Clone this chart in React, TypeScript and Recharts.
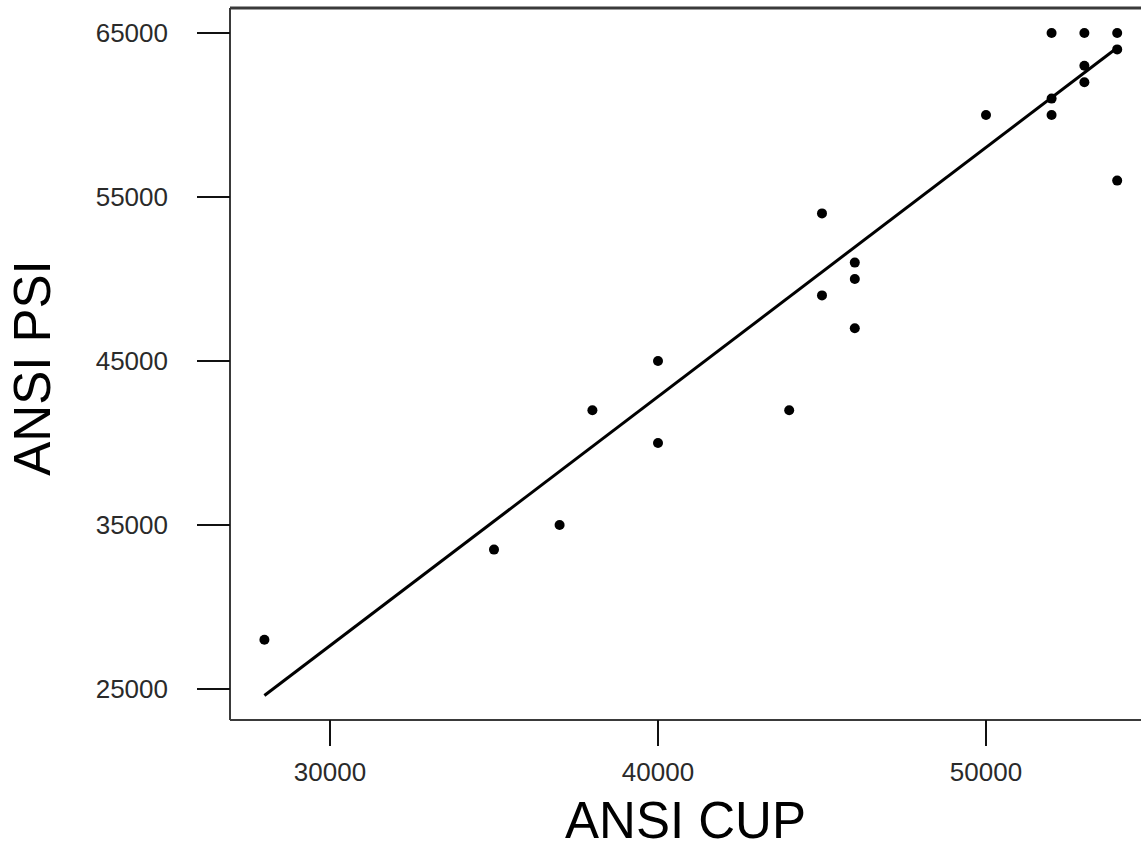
import { Label, ReferenceLine, Scatter, ScatterChart, XAxis, YAxis } from 'recharts';

// ANSI CUP vs ANSI PSI scatter with fitted line.

const cupValues = [
  28000, 35000, 37000, 38000, 40000, 40000, 44000, 45000, 45000, 46000, 46000,
  46000, 50000, 52000, 52000, 52000, 53000, 53000, 53000, 54000, 54000, 54000,
];
const psiValues = [
  28000, 33500, 35000, 42000, 45000, 40000, 42000, 54000, 49000, 51000, 50000,
  47000, 60000, 65000, 61000, 60000, 65000, 63000, 62000, 65000, 64000, 56000,
];
const fitCup = [28000, 54000];
const fitPsi = [24600, 64100];

const xTicks = [30000, 40000, 50000];
const yTicks = [25000, 35000, 45000, 55000, 65000];

const points = cupValues.map((x, i) => ({ x, y: psiValues[i] }));
const fitLine = fitCup.map((x, i) => ({ x, y: fitPsi[i] }));

const X_DOMAIN: [number, number] = [26951, 54726];
const Y_DOMAIN: [number, number] = [23110, 66524];

const FONT = '"Liberation Sans", Arial, sans-serif';
const AXIS_COLOR = '#3a3a3a';
const TICK_TEXT = { fill: '#2a2a2a', fontSize: 26, fontFamily: FONT };

const Dot = (props: any) => <circle cx={props.cx} cy={props.cy} r={5} fill="#000" />;

export default function App() {
  return (
    <div
      style={{
        position: 'absolute',
        left: 0,
        top: 0,
        width: 1141,
        height: 848,
        overflow: 'hidden',
        background: '#fff',
      }}
    >
      <ScatterChart width={1141} height={848} margin={{ top: 8, right: 0, bottom: 0, left: 0 }}>
        <XAxis
          dataKey="x"
          type="number"
          domain={X_DOMAIN}
          allowDataOverflow
          ticks={xTicks}
          tickSize={26}
          tickMargin={17}
          height={128}
          tick={TICK_TEXT}
          tickLine={{ stroke: '#111', strokeWidth: 2 }}
          axisLine={{ stroke: AXIS_COLOR, strokeWidth: 2 }}
        >
          <Label
            content={({ viewBox }: any) => (
              <text
                x={viewBox.x + viewBox.width / 2}
                y={viewBox.y + viewBox.height - 10}
                textAnchor="middle"
                fontSize={51}
                fontFamily={FONT}
                fill="#000"
              >
                ANSI CUP
              </text>
            )}
          />
        </XAxis>
        <YAxis
          dataKey="y"
          type="number"
          domain={Y_DOMAIN}
          allowDataOverflow
          ticks={yTicks}
          width={230}
          tickSize={33}
          tickMargin={29}
          tick={TICK_TEXT}
          tickLine={{ stroke: '#111', strokeWidth: 2 }}
          axisLine={{ stroke: AXIS_COLOR, strokeWidth: 2 }}
        >
          <Label
            content={({ viewBox }: any) => {
              const cx = viewBox.x + 50;
              const cy = 368;
              return (
                <text
                  x={cx}
                  y={cy}
                  transform={`rotate(-90, ${cx}, ${cy})`}
                  textAnchor="middle"
                  fontSize={51}
                  fontFamily={FONT}
                  fill="#000"
                >
                  ANSI PSI
                </text>
              );
            }}
          />
        </YAxis>
        <ReferenceLine y={Y_DOMAIN[1]} stroke={AXIS_COLOR} strokeWidth={3} ifOverflow="visible" />
        <Scatter
          data={fitLine}
          line={{ stroke: '#000', strokeWidth: 3 }}
          shape={() => <g />}
          isAnimationActive={false}
        />
        <Scatter data={points} shape={Dot} isAnimationActive={false} />
      </ScatterChart>
    </div>
  );
}
